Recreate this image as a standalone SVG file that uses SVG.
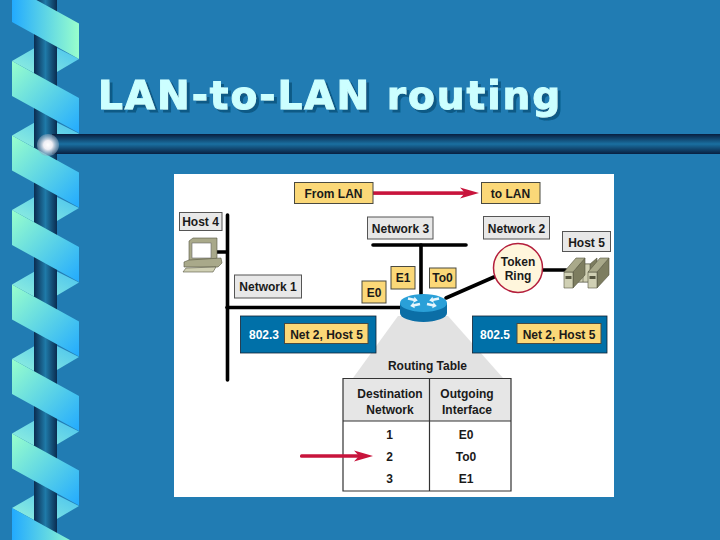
<svg xmlns="http://www.w3.org/2000/svg" width="720" height="540" viewBox="0 0 720 540">
<style>
text{font-family:"Liberation Sans",Arial,sans-serif;font-weight:700;font-size:12px;fill:#1a1a1a;text-anchor:middle}
.gold{fill:#fbd878;stroke:#4a4a40;stroke-width:1}
.gray{fill:#e8e8e8;stroke:#555;stroke-width:1}
.blue{fill:#0070a8;stroke:#123;stroke-width:.8}
.wire{stroke:#000;stroke-width:3.6;fill:none;stroke-linecap:round}
.red{fill:#c8143c}
.title{font-family:"DejaVu Sans",Verdana,sans-serif;font-size:39px;letter-spacing:2px;fill:#ccffff;stroke:#ccffff;stroke-width:1;text-anchor:start;filter:url(#ts)}
.olive{fill:#a9a98a;stroke:#55553f;stroke-width:.6}
.olived{fill:#7d7d60;stroke:#55553f;stroke-width:.6}
.olivel{fill:#d0d0b4;stroke:#55553f;stroke-width:.6}
</style>
<defs>
<filter id="ts" x="-5%" y="-20%" width="110%" height="140%"><feDropShadow dx="3" dy="3" stdDeviation="0.600" flood-color="#0d5a86"/></filter>
<linearGradient id="bandA" x1="0" y1="0" x2="1" y2="1"><stop offset="0" stop-color="#99ffcc"/><stop offset="1" stop-color="#22aaff"/></linearGradient>
<linearGradient id="bandB" x1="0" y1="0" x2="1" y2="0"><stop offset="0" stop-color="#22aaff"/><stop offset="1" stop-color="#99ffcc"/></linearGradient>
<linearGradient id="fold" x1="0" y1="1" x2="1" y2="0"><stop offset="0" stop-color="#99f5dc"/><stop offset="1" stop-color="#44bff0"/></linearGradient>
<linearGradient id="pole" x1="0" y1="0" x2="1" y2="0"><stop offset="0" stop-color="#0a2c50"/><stop offset=".5" stop-color="#1f7aa8"/><stop offset="1" stop-color="#0a2c50"/></linearGradient>
<linearGradient id="bar" x1="0" y1="0" x2="0" y2="1"><stop offset="0" stop-color="#081f40"/><stop offset=".5" stop-color="#1a6fa0"/><stop offset="1" stop-color="#081f40"/></linearGradient>
<radialGradient id="ball"><stop offset="0" stop-color="#ffffff"/><stop offset=".4" stop-color="#eeeef4"/><stop offset="1" stop-color="#8aa4bc" stop-opacity=".5"/></radialGradient>
<polygon id="band" points="12,61 79,98 79,133 12,96"/>
<polygon id="rhomb" points="12,61 45,42 79,59 45,79"/>
<polygon id="head" points="-19,-5.500 0,0 -19,5.500 -14,0" class="red"/>
<polygon id="ra" points="0,-1.300 6,-1.300 6,-3 10,0 6,3 6,1.300 0,1.300" fill="#e8f6fc"/>
</defs>
<rect width="720" height="540" fill="#217cb3"/>
<g id="ribbon">
<g fill="url(#fold)">
<use href="#rhomb"/><use href="#rhomb" y="74.5"/><use href="#rhomb" y="149"/><use href="#rhomb" y="223.5"/><use href="#rhomb" y="298"/><use href="#rhomb" y="372.5"/><use href="#rhomb" y="447"/>
</g>
<rect x="34" y="0" width="23" height="540" fill="url(#pole)"/>
<polygon points="12,-13.5 79,23.5 79,59 12,22" fill="url(#bandB)"/>
<g fill="url(#bandA)">
<use href="#band"/><use href="#band" y="74.5"/><use href="#band" y="149"/><use href="#band" y="223.5"/><use href="#band" y="298"/><use href="#band" y="372.5"/>
</g>
<polygon points="12,508 79,545 79,580 12,543" fill="url(#bandB)"/>
</g>
<rect x="52" y="134" width="668" height="20" fill="url(#bar)"/>
<circle cx="48" cy="145" r="11" fill="url(#ball)"/>
<text class="title" x="98" y="109">LAN-to-LAN routing</text>
<rect x="174" y="174" width="440" height="323" fill="#fff"/>
<polygon points="398,316 353,378 503,378 448,316" fill="#e2e2e2"/>
<g id="routing-table">
<text x="427.500" y="370">Routing Table</text>
<rect x="343" y="378.500" width="168" height="112.500" fill="#fff"/>
<rect x="343" y="378.500" width="168" height="42.500" fill="#e6e6e6"/>
<path d="M343,378.500 H511 V491 H343 Z M343,421 H511 M429.500,378.500 V491" fill="none" stroke="#333" stroke-width="1.200"/>
<text x="390" y="398">Destination</text><text x="390" y="414">Network</text>
<text x="467" y="398">Outgoing</text><text x="467" y="414">Interface</text>
<text x="389.500" y="439">1</text><text x="466" y="439">E0</text>
<text x="389.500" y="461">2</text><text x="466" y="461">To0</text>
<text x="389.500" y="483">3</text><text x="466" y="483">E1</text>
</g>
<g id="connectors">
<line class="wire" x1="227.500" y1="215" x2="227.500" y2="380"/>
<line class="wire" x1="217" y1="252" x2="227" y2="252"/>
<line class="wire" x1="227" y1="307.500" x2="402" y2="307.500"/>
<line class="wire" x1="373" y1="245" x2="466" y2="245"/>
<line class="wire" x1="421" y1="245" x2="421" y2="298"/>
<line class="wire" x1="446" y1="298" x2="494" y2="277"/>
<line class="wire" x1="542" y1="270" x2="566" y2="270"/>
<g id="flow-arrow"><rect x="373" y="191.300" width="92" height="3.600" class="red"/><use href="#head" x="479" y="193"/></g>
<g id="table-arrow"><rect x="300" y="454.200" width="60" height="3.600" rx="1.500" class="red"/><use href="#head" x="373" y="456"/></g>
</g>
<g id="from-lan"><rect class="gold" x="294.500" y="182.500" width="78.500" height="21"/><text x="333.500" y="198">From LAN</text></g>
<g id="to-lan"><rect class="gold" x="481.500" y="182.500" width="58.500" height="21"/><text x="510.500" y="198">to LAN</text></g>
<g id="host-4"><rect class="gray" x="179.500" y="212.500" width="42.500" height="18"/><text x="200.500" y="226">Host 4</text>
<polygon class="olive" points="189,241 193,238 217,238 217,258 213,261 189,261"/>
<rect x="192" y="243" width="19" height="15" fill="#fff" stroke="#666" stroke-width=".6"/>
<polygon class="olive" points="184,262 189,260 221,258 222,263 218,267 184,267"/>
<polygon class="olivel" points="186,268 216,267 213,272 183,272"/></g>
<g id="network-1"><rect class="gray" x="234.500" y="275" width="67" height="23"/><text x="268" y="291">Network 1</text></g>
<g id="network-3"><rect class="gray" x="367.500" y="217" width="65.500" height="22"/><text x="400.500" y="232.500">Network 3</text></g>
<g id="network-2"><rect class="gray" x="483.500" y="216.500" width="66" height="22.500"/><text x="516.500" y="232.500">Network 2</text></g>
<g id="host-5"><rect class="gray" x="562.500" y="231.500" width="48" height="20"/><text x="586.500" y="246.500">Host 5</text>
<polygon class="olived" points="577,264 590,264 597,258 597,275 590,282 577,282"/>
<polygon class="olivel" points="577,264 590,264 590,282 577,282"/>
<line x1="583" y1="264" x2="583" y2="282" stroke="#55553f" stroke-width=".6"/>
<polygon class="olived" points="573,272 585,258 585,275 573,288"/>
<polygon class="olivel" points="564,272 573,272 573,288 564,288"/>
<polygon class="olive" points="564,272 576,258 585,258 573,272"/>
<rect x="565.500" y="276" width="6" height="3" fill="#55553f"/>
<polygon class="olived" points="597,272 609,258 609,275 597,288"/>
<polygon class="olivel" points="588,272 597,272 597,288 588,288"/>
<polygon class="olive" points="588,272 600,258 609,258 597,272"/>
<rect x="589.500" y="276" width="6" height="3" fill="#55553f"/></g>
<g id="e0"><rect class="gold" x="362" y="281" width="24" height="22"/><text x="374" y="297">E0</text></g>
<g id="e1"><rect class="gold" x="391" y="266.500" width="24" height="22.500"/><text x="403" y="282">E1</text></g>
<g id="to0"><rect class="gold" x="429.500" y="268" width="26.500" height="20"/><text x="442.500" y="282">To0</text></g>
<g id="token-ring"><circle cx="518" cy="268" r="24.500" fill="#fff6dc" stroke="#b41e3c" stroke-width="1.500"/><text x="518" y="266">Token</text><text x="518" y="280">Ring</text></g>
<g id="router">
<path d="M400,303 v10 a23.500,9 0 0 0 47,0 v-10 z" fill="#0b6ea6"/>
<ellipse cx="423.500" cy="303" rx="23.500" ry="9" fill="#2aa0d8"/>
<use href="#ra" transform="translate(408,298.500) rotate(12)"/>
<use href="#ra" transform="translate(439,298.500) rotate(168)"/>
<use href="#ra" transform="translate(420,304) rotate(168)"/>
<use href="#ra" transform="translate(427,304) rotate(12)"/>
</g>
<g id="iface-left"><rect class="blue" x="240.500" y="316" width="135.500" height="37"/><text x="264" y="338.500" style="fill:#fff">802.3</text><rect class="gold" x="284.500" y="323.500" width="83.500" height="20"/><text x="326.500" y="338.500">Net 2, Host 5</text></g>
<g id="iface-right"><rect class="blue" x="472.500" y="316" width="134.500" height="37"/><text x="495" y="338.500" style="fill:#fff">802.5</text><rect class="gold" x="517" y="323.500" width="84" height="20"/><text x="559" y="338.500">Net 2, Host 5</text></g>
</svg>
